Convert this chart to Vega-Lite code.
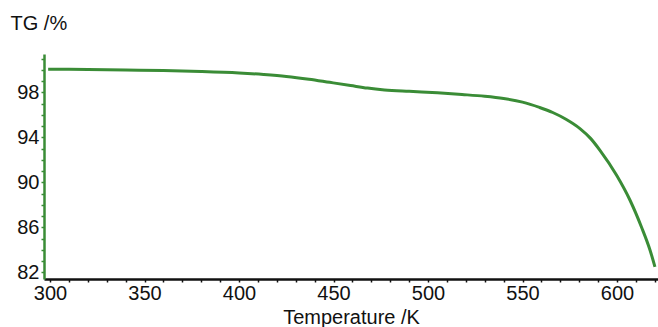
{
  "$schema": "https://vega.github.io/schema/vega-lite/v6.json",
  "autosize": {"type": "none"},
  "padding": {"left": 44, "top": 54, "right": 0, "bottom": 48},
  "width": 614,
  "height": 225,
  "background": "white",
  "config": {"view": {"stroke": null}, "font": "Liberation Sans"},
  "data": {"values": [
    {"T": 299, "TG": 100.05}, {"T": 310, "TG": 100.04}, {"T": 320, "TG": 100.02},
    {"T": 340, "TG": 99.98}, {"T": 360, "TG": 99.93}, {"T": 380, "TG": 99.85},
    {"T": 400, "TG": 99.72}, {"T": 413, "TG": 99.58}, {"T": 425, "TG": 99.41},
    {"T": 437, "TG": 99.16}, {"T": 448, "TG": 98.88}, {"T": 459, "TG": 98.6},
    {"T": 468, "TG": 98.37}, {"T": 477, "TG": 98.21}, {"T": 490, "TG": 98.08},
    {"T": 505, "TG": 97.95}, {"T": 518, "TG": 97.8}, {"T": 530, "TG": 97.64},
    {"T": 540, "TG": 97.44}, {"T": 550, "TG": 97.12}, {"T": 559, "TG": 96.65},
    {"T": 566, "TG": 96.2}, {"T": 573, "TG": 95.6}, {"T": 580.4, "TG": 94.77},
    {"T": 586, "TG": 93.9}, {"T": 591, "TG": 92.84}, {"T": 599.8, "TG": 90.62},
    {"T": 606.9, "TG": 88.4}, {"T": 613, "TG": 86.0}, {"T": 617.5, "TG": 83.96},
    {"T": 620.1, "TG": 82.47}
  ]},
  "mark": {"type": "line", "color": "#3a8c36", "strokeWidth": 3, "interpolate": "monotone", "clip": true},
  "encoding": {
    "x": {
      "field": "T", "type": "quantitative",
      "scale": {"domain": [296.8, 621.7], "nice": false, "zero": false},
      "axis": {
        "title": "Temperature /K",
        "titleFontSize": 20, "titleFontWeight": "normal", "titleColor": "#111",
        "titleX": 307, "titleY": 44, "titleBaseline": "alphabetic", "titleAnchor": null,
        "values": [300,310,320,330,340,350,360,370,380,390,400,410,420,430,440,450,460,470,480,490,500,510,520,530,540,550,560,570,580,590,600,610,620],
        "labelExpr": "datum.value % 50 == 0 ? datum.label : ''",
        "labelFontSize": 20, "labelColor": "#111", "labelPadding": 1,
        "domainColor": "#111", "domainWidth": 2.5,
        "tickColor": "#111", "tickSize": 3, "tickWidth": 1.5,
        "grid": false
      }
    },
    "y": {
      "field": "TG", "type": "quantitative",
      "scale": {"domain": [81.4, 101.4], "nice": false, "zero": false},
      "axis": {
        "title": "TG /%",
        "titleFontSize": 20, "titleFontWeight": "normal", "titleColor": "#111",
        "titleAngle": 0, "titleAlign": "left", "titleBaseline": "alphabetic",
        "titleX": -34, "titleY": -25, "titleAnchor": null,
        "values": [82,83,84,85,86,87,88,89,90,91,92,93,94,95,96,97,98,99,100,101],
        "labelExpr": "(datum.value - 82) % 4 == 0 ? datum.label : ''",
        "labelFontSize": 20, "labelColor": "#111", "labelPadding": 2,
        "domainColor": "#3a8c36", "domainWidth": 2.5,
        "tickColor": "#3a8c36", "tickSize": 3, "tickWidth": 1.5,
        "grid": false
      }
    }
  }
}
